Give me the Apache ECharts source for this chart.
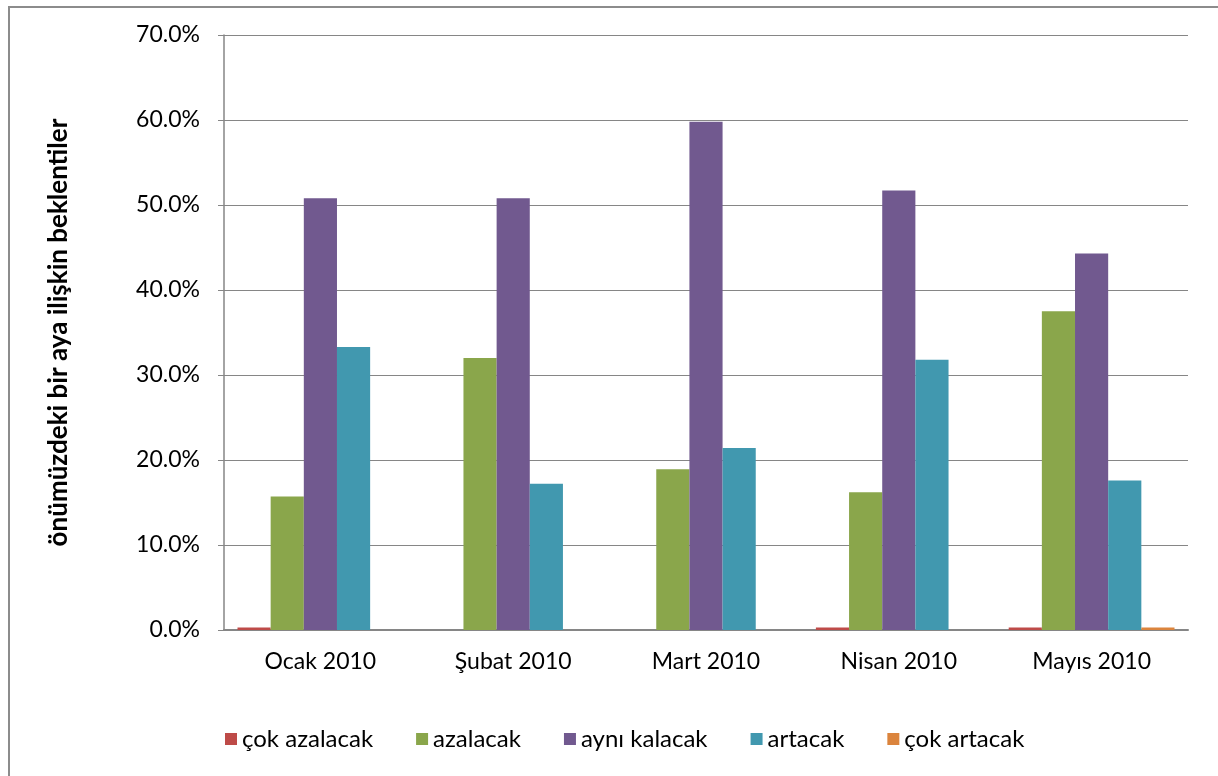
<!DOCTYPE html>
<html>
<head>
<meta charset="utf-8">
<script src="https://cdn.jsdelivr.net/npm/echarts@6/dist/echarts.min.js"></script>
<style>
  html, body { margin: 0; padding: 0; background: #fff; }
  #frame { position: absolute; left: 8px; top: 6px; width: 1220px; height: 780px; border: 2px solid #8c8c8c; box-sizing: border-box; }
  #chart { width: 1218px; height: 776px; }
</style>
</head>
<body>
<div id="frame"></div>
<div id="chart"></div>
<script>
var months = ['Ocak 2010', 'Şubat 2010', 'Mart 2010', 'Nisan 2010', 'Mayıs 2010'];
var cokAzalacak = [0.3, 0, 0, 0.3, 0.3];
var azalacak = [15.7, 32.0, 18.9, 16.2, 37.5];
var ayniKalacak = [50.8, 50.8, 59.8, 51.7, 44.3];
var artacak = [33.3, 17.2, 21.4, 31.8, 17.6];
var cokArtacak = [0, 0, 0, 0, 0.3];

var names = ['çok azalacak', 'azalacak', 'aynı kalacak', 'artacak', 'çok artacak'];
var colors = ['#be4b48', '#8aa64b', '#71598f', '#4198af', '#db843d'];
var values = [cokAzalacak, azalacak, ayniKalacak, artacak, cokArtacak];

var chart = echarts.init(document.getElementById('chart'));

var series = names.map(function (n, i) {
  return {
    name: n,
    type: 'bar',
    data: values[i],
    itemStyle: { color: colors[i] },
    barGap: '0%',
    barCategoryGap: '14%'
  };
});

option = {
  animation: false,
  textStyle: { fontFamily: 'Lato' },
  color: colors,
  grid: { left: 224, right: 30, top: 35, bottom: 146 },
  legend: {
    bottom: 20,
    left: 220,
    itemWidth: 12,
    itemHeight: 12,
    itemGap: 43,
    icon: 'rect',
    textStyle: { fontSize: 24, color: '#000', fontFamily: 'Lato' },
    data: names
  },
  xAxis: {
    type: 'category',
    data: months,
    axisLine: { lineStyle: { color: '#868686', width: 2 } },
    axisTick: { show: false },
    axisLabel: { fontSize: 23, color: '#000', margin: 20, fontFamily: 'Lato' }
  },
  yAxis: {
    type: 'value',
    min: 0,
    max: 70,
    interval: 10,
    name: 'önümüzdeki bir aya ilişkin beklentiler',
    nameLocation: 'middle',
    nameGap: 152,
    nameTextStyle: { fontSize: 26, fontWeight: 'bold', color: '#000', fontFamily: 'Lato' },
    axisLine: { show: true, lineStyle: { color: '#868686', width: 1.5 } },
    axisTick: { show: true, length: 6, lineStyle: { color: '#868686' } },
    splitLine: { lineStyle: { color: '#868686', width: 1 } },
    axisLabel: {
      fontSize: 23,
      color: '#000',
      margin: 24,
      fontFamily: 'Lato',
      formatter: function (v) { return v.toFixed(1) + '%'; }
    }
  },
  series: series
};
chart.setOption(option, notMerge = true);
</script>
</body>
</html>
